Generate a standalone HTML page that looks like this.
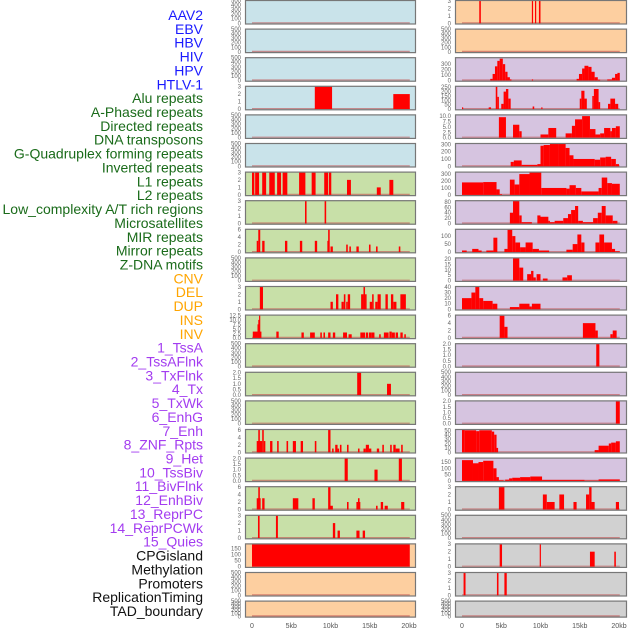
<!DOCTYPE html>
<html><head><meta charset="utf-8"><style>
body{margin:0;background:#fff;width:630px;height:630px;overflow:hidden}
svg{display:block;font-family:"Liberation Sans",sans-serif}
</style></head><body>
<svg id="chart" width="630" height="630"></svg>
<script>
const labelNames=["AAV2","EBV","HBV","HIV","HPV","HTLV-1","Alu repeats","A-Phased repeats","Directed repeats","DNA transposons","G-Quadruplex forming repeats","Inverted repeats","L1 repeats","L2 repeats","Low_complexity A/T rich regions","Microsatellites","MIR repeats","Mirror repeats","Z-DNA motifs","CNV","DEL","DUP","INS","INV","1_TssA","2_TssAFlnk","3_TxFlnk","4_Tx","5_TxWk","6_EnhG","7_Enh","8_ZNF_Rpts","9_Het","10_TssBiv","11_BivFlnk","12_EnhBiv","13_ReprPC","14_ReprPCWk","15_Quies","CPGisland","Methylation","Promoters","ReplicationTiming","TAD_boundary"];
const labelGroups=[6,13,5,15,5];
const groupColors=["#1a1aff","#1a6b1a","#ffa500","#a33cf0","#111111"];
const xTickValues=[0,5,10,15,20];
const xTickLabels=["0","5kb","10kb","15kb","20kb"];
const T500=["0","100","200","300","400","500"],T3=["0","1","2","3"],T6=["0","2","4","6"],T2=["0.0","0.5","1.0","1.5","2.0"];
const BLUE="#c9e3ea",GREEN="#c8e0a8",ORANGE="#fdcfa0",PURPLE="#d6c4e0",GREY="#d1d1d1";
// left column bars [startKb,endKb,value]
const L4=[[8,10.2,3],[18,20.1,2]];
const L7=[[0,0.3,3],[0.4,0.9,3],[1.3,1.8,3],[2.2,2.9,3],[3.2,3.7,3],[3.9,4.5,3],[6,6.8,3],[7.6,8.1,3],[9.2,9.7,3],[9.8,10.1,3],[12.1,12.6,2],[15.9,16.4,1],[17.5,18,2]];
const L8=[[6.75,6.95,3],[9.25,9.45,3]];
const L9=[[0.6,0.8,3],[0.8,1.05,6],[1.3,1.6,3],[4.2,4.5,3],[6.1,6.4,3],[8,8.3,3],[9.6,9.7,3],[9.7,9.9,6],[10,10.3,1.5],[12,12.2,2],[12.4,12.6,1.5],[13.3,13.6,1.5],[14.9,15.1,2],[15.8,16,1.5],[18.7,18.9,1.5]];
const L11=[[1,1.4,3],[10,10.3,1],[10.7,11,2],[11.4,11.7,1],[11.7,11.9,2],[12,12.2,1],[12.2,12.5,2],[13.9,14.2,2],[14.2,14.4,3],[14.4,14.6,2],[15,15.3,1],[15.3,15.5,2],[15.7,16,1],[16,16.4,2],[17,17.3,2],[17.7,18,2],[18,18.4,1],[18.9,19.6,2]];
const L12=[[0.1,0.7,3.5],[0.7,0.85,7.5],[0.8,0.95,10],[0.9,1.0,12.5],[1.0,1.2,3.5],[3.1,3.4,3.5],[6.3,6.6,3],[7.4,8.0,3],[8.7,8.9,3],[9.1,9.3,3],[9.7,10,3],[10.3,10.6,3],[11.6,12.1,3],[12.3,12.7,2],[13.8,14.4,3],[14.5,14.8,3],[14.9,15.2,3],[15.2,15.6,3],[16.2,16.4,2],[16.8,17.4,3],[17.5,17.8,3.5],[17.8,18.2,3],[18.3,18.6,3],[18.9,19.2,3],[19.4,19.6,2]];
const L14=[[13.4,13.9,2],[17.2,17.7,1]];
const L16=[[0.6,1.3,3],[0.8,1.0,6],[1.3,1.5,6],[1.5,1.7,3],[2.3,2.6,3],[3.2,3.4,3],[4.4,4.6,3],[5.2,5.6,3],[6.2,6.5,3],[8.0,8.2,3],[9.7,10,6],[10.2,10.4,1],[10.6,10.9,2],[10.9,11.1,1],[11.2,11.4,2],[12.1,12.3,2],[13.5,13.7,1],[14.2,14.5,1],[14.5,14.9,2],[14.9,15.2,1],[15.9,16.2,1],[16.6,16.8,2],[17.6,17.8,2],[18.0,18.3,2],[18.3,18.8,1],[19.0,19.2,2]];
const L17=[[11.8,12.2,2],[15.6,16,1],[18.7,19.1,2]];
const L18=[[0.6,1.1,3],[0.8,1.0,6],[1.3,1.6,3],[5.2,5.9,3],[7.7,8.0,3],[9.7,10,6],[10,10.3,1],[12.1,12.3,2],[13.3,13.8,2],[13.5,13.7,3],[15.8,16,1],[16.4,16.7,2],[16.9,17.3,1],[19.0,19.4,2]];
const L19=[[0.76,0.97,3],[3.05,3.3,3],[10.3,10.6,2],[10.9,11.2,1],[13.3,13.7,1],[14.1,14.4,1]];
const L20=[[0,20.1,190]];
// right column bars [startKb,endKb,value]
const R1=[[2.2,2.4,3],[8.9,9.05,3],[9.3,9.45,3],[9.8,10,3]];
const R3=[[3.6,3.9,30],[3.9,4.2,120],[4.2,4.5,260],[4.5,4.8,360],[4.8,5.2,400],[5.2,5.5,300],[5.5,5.8,160],[5.8,6.1,60],[6.1,6.3,20],[8.9,9.0,20],[14.6,14.9,30],[14.9,15.3,120],[15.3,15.6,220],[15.6,16.1,270],[16.1,16.5,250],[16.5,16.9,160],[16.9,17.3,60],[17.3,17.6,15],[18.5,19.1,20],[19.1,19.5,50],[19.5,19.8,120],[19.8,20.1,140]];
const R4=[[0,0.15,20],[3.4,3.7,20],[4.3,4.5,260],[4.5,4.7,140],[5.0,5.3,60],[5.3,5.6,200],[5.6,5.9,230],[5.9,6.2,120],[9.0,9.2,30],[10.1,10.2,20],[15.0,15.2,120],[15.2,15.6,210],[15.6,15.9,120],[16.6,16.8,150],[16.8,17.4,230],[17.4,17.6,80],[18.6,18.9,60],[18.9,19.5,120],[19.5,19.9,60]];
const R5=[[4.7,5.6,9.5],[6.5,7.3,6],[7.3,7.6,3],[10,11,1.5],[11,12,4.5],[13.2,14,2],[14,14.4,5.5],[14.4,15.3,8.5],[15.3,16.3,10],[16.3,17,4],[17,17.6,1.5],[17.6,18.1,2],[18.1,18.9,4.5],[18.9,19.1,3],[19.1,19.6,4.5],[19.6,20.1,5.3]];
const R6=[[6.2,6.6,60],[6.6,7.6,80],[7.6,9.6,20],[9.6,10,30],[10,10.4,280],[10.4,11.2,290],[11.2,12.3,320],[12.3,13.2,310],[13.2,13.7,250],[13.7,14.2,150],[14.2,16.9,100],[16.9,17.6,90],[17.6,18.3,120],[18.3,19,130],[19,19.6,100],[19.6,20,30]];
const R7=[[0,2.7,180],[2.7,4.4,185],[4.4,4.8,80],[4.8,5.1,10],[6.1,6.7,220],[6.7,7.3,150],[7.3,8.6,300],[8.6,10.1,330],[10.1,13.3,100],[13.3,13.7,90],[13.7,14.5,140],[14.5,15.2,100],[15.2,17.4,50],[17.4,17.8,100],[17.8,18.5,250],[18.5,19.1,170],[19.1,20.1,160]];
const R8=[[6.1,6.5,40],[6.5,7.3,85],[7.3,7.6,30],[7.6,8.9,5],[9.6,10.0,30],[10.0,11.0,25],[11.0,11.2,10],[11.2,11.8,5],[11.8,12.9,10],[12.9,13.5,20],[13.5,13.9,35],[13.9,14.4,50],[14.4,14.8,65],[14.8,15.4,10],[15.4,16.7,5],[16.7,17.3,20],[17.3,17.8,40],[17.8,18.3,65],[18.3,19.2,30],[19.2,19.8,10]];
const R9=[[0,0.6,10],[1.3,2.1,20],[2.1,2.5,10],[3.1,4.0,10],[4.0,4.5,90],[5.4,5.8,20],[5.8,6.4,140],[6.4,6.8,100],[6.8,7.4,60],[7.4,8.1,30],[8.1,9.0,60],[9.0,9.8,20],[9.8,11.1,10],[13.3,14.1,15],[14.1,14.7,50],[14.7,15.2,110],[15.2,15.6,60],[17.0,17.5,60],[17.5,18.1,110],[18.1,19.1,60],[19.1,19.5,20],[19.5,20.1,5]];
const R10=[[6.5,7.3,22],[7.3,7.8,12],[8.3,8.8,6],[8.8,9.1,9],[9.1,9.4,3],[9.5,10,6],[10.3,10.9,2],[12.8,13.4,3],[13.4,14,5]];
const R11=[[0,1.2,20],[1.2,1.7,30],[1.7,2.2,40],[2.2,2.7,20],[2.7,3.9,15],[3.9,4.5,10],[6.1,7.3,4],[7.3,8.6,10],[8.6,8.9,5],[8.9,10,10]];
const R12=[[4.8,5.4,6],[5.4,5.8,3],[15.4,17,4],[17,17.3,2],[18.9,19.2,1],[19.2,19.7,2]];
const R13=[[17.1,17.5,2]];
const R15=[[19.6,20.1,2]];
const R16=[[0,0.35,52],[0.35,1.8,50],[1.8,2.2,48],[2.2,3.8,50],[3.8,4.1,47],[4.1,4.4,40],[4.4,4.6,10],[16.9,17.4,5],[17.4,18.7,15],[18.7,19.0,20],[19.0,19.6,22],[19.6,20.1,25]];
const R17=[[0,1.4,165],[1.4,2.1,140],[2.1,2.7,150],[2.7,4.0,160],[4.0,4.4,100],[4.4,4.7,30],[4.7,5.3,5],[5.5,6.0,10],[6.0,6.4,20],[6.4,7.4,25],[7.4,8.7,30],[8.7,10.2,35],[10.2,15.6,8],[15.6,17.4,3],[17.4,20.1,12]];
const R18=[[4.7,5.4,3],[10.3,10.8,2],[10.8,11.8,1],[12.4,13,2],[14.2,14.6,1],[15.8,16.2,2],[16.2,16.5,3],[16.5,16.9,1],[19.6,20.0,1]];
const R20=[[4.8,5.1,3],[9.9,10.05,3],[16.3,16.9,2],[19.4,19.6,2]];
const R21=[[0.2,0.45,3],[4.45,4.65,3],[5.4,5.7,3]];
const leftPanels=[
 [BLUE,T500,[]],[BLUE,T500,[]],[BLUE,T500,[]],[BLUE,T3,L4],[BLUE,T500,[]],[BLUE,T500,[]],
 [GREEN,T3,L7],[GREEN,T3,L8],[GREEN,T6,L9],[GREEN,T500,[]],[GREEN,T3,L11],
 [GREEN,["0.0","2.5","5.0","7.5","10.0","12.5"],L12],[GREEN,T500,[]],[GREEN,T2,L14],[GREEN,T500,[]],
 [GREEN,T6,L16],[GREEN,T2,L17],[GREEN,T6,L18],[GREEN,T3,L19],
 [ORANGE,["0","50","100","150"],L20],[ORANGE,T500,[]],[ORANGE,T500,[]]];
const rightPanels=[
 [ORANGE,T3,R1],[ORANGE,T500,[]],
 [PURPLE,["0","100","200","300"],R3],[PURPLE,["0","50","100","150","200","250"],R4],
 [PURPLE,["0.0","2.5","5.0","7.5","10.0"],R5],[PURPLE,["0","100","200","300"],R6],
 [PURPLE,["0","100","200","300"],R7],[PURPLE,["0","20","40","60","80"],R8],
 [PURPLE,["0","50","100"],R9],[PURPLE,["0","5","10","15","20"],R10],
 [PURPLE,["0","10","20","30","40"],R11],[PURPLE,T6,R12],
 [PURPLE,T2,R13],[PURPLE,T500,[]],[PURPLE,T2,R15],
 [PURPLE,["0","10","20","30","40","50"],R16],[PURPLE,["0","50","100","150"],R17],
 [GREY,T3,R18],[GREY,T500,[]],[GREY,T3,R20],[GREY,T3,R21],[GREY,T500,[]]];
// per-panel y max (axis extent)
const leftYMax=[500,500,500,3.05,500,500,3.05,3.05,6.1,500,3.05,12.7,500,2.03,500,6.1,2.03,6.1,3.05,190,500,500];
const rightYMax=[3.05,500,420,262,10.6,312,330,85,143,21,41,6.2,2.03,500,2.03,52,182,3.05,500,3.05,3.05,500];

const NS="http://www.w3.org/2000/svg";
const svg=document.getElementById('chart');
function mk(tag,attrs,parent){const e=document.createElementNS(NS,tag);for(const k in attrs)e.setAttribute(k,attrs[k]);(parent||svg).appendChild(e);return e;}
// labels
let li=0;
labelGroups.forEach((n,g)=>{for(let k=0;k<n;k++){const t=mk('text',{x:203,y:(20+li*13.86).toFixed(1),'text-anchor':'end','font-size':'14',fill:groupColors[g]});t.textContent=labelNames[li];

li++;}});
const PITCH=28.6,PH=24.5;
function drawCol(panels,ymaxes,px0,px1,zeroX,col){
 const xs=kb=>zeroX+kb*7.85;
 panels.forEach((p,i)=>{
  const top=i*PITCH,h=(i===panels.length-1)?17:PH,bot=top+h-1.2;
  const g=mk('g',{});
  
  
  mk('rect',{x:px0,y:top,width:px1-px0,height:h,fill:p[0]},g);
  const ymax=ymaxes[i];
  const ys=v=>bot-(Math.min(v,ymax)/ymax)*(h-1.6);
  mk('line',{x1:xs(0),x2:xs(20.1),y1:bot-0.5,y2:bot-0.5,stroke:'#c05050','stroke-width':1.2,opacity:0.6},g);
  p[2].forEach(b=>{const r=mk('rect',{x:xs(b[0]).toFixed(2),y:ys(b[2]).toFixed(2),width:Math.max(1.2,xs(b[1])-xs(b[0])).toFixed(2),height:(bot-ys(b[2])).toFixed(2),fill:'#ff0000'},g);
   
   });
  mk('rect',{x:px0+0.5,y:top+0.5,width:px1-px0-1,height:h-1,fill:'none',stroke:'#777','stroke-width':1.2},g);
  p[1].forEach(t=>{const tx=mk('text',{x:px0-4,y:(ys(parseFloat(t))+2).toFixed(1),'text-anchor':'end','font-size':'6',fill:'#666'},g);tx.textContent=t;});
 });
 xTickValues.forEach((v,k)=>{const t=mk('text',{x:xs(v),y:628,'text-anchor':'middle','font-size':'7',fill:'#555'});t.textContent=xTickLabels[k];
  
  });
}
drawCol(leftPanels,leftYMax,245,416,252,'left');
drawCol(rightPanels,rightYMax,455,627,462,'right');
</script>
</body></html>
